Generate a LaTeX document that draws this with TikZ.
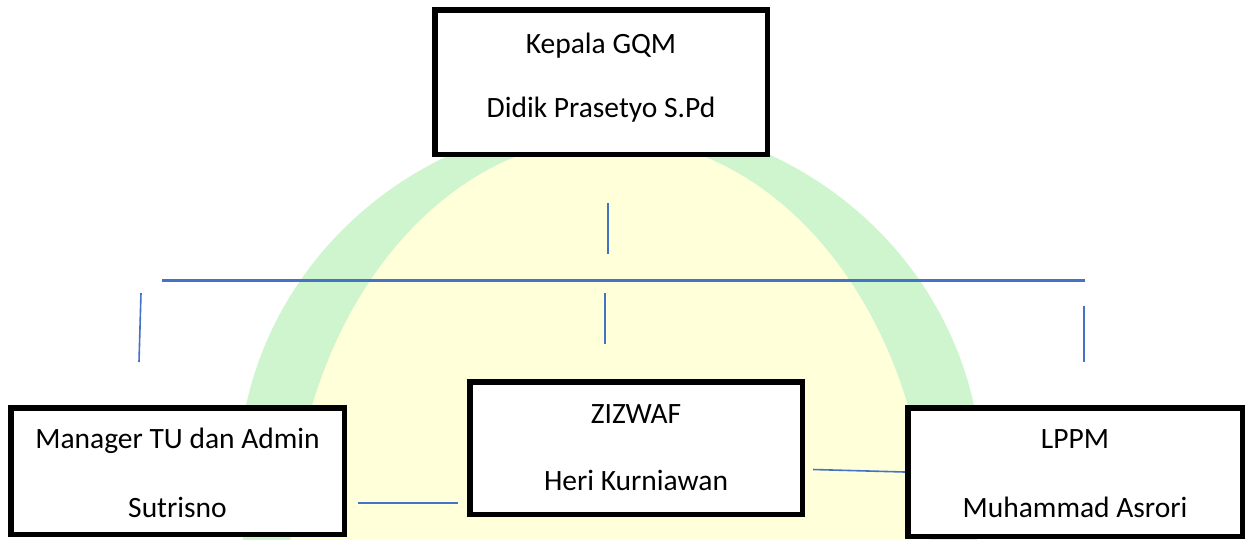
\documentclass[tikz,border=0pt]{standalone}
\usepackage{fontspec}
\setmainfont{Carlito}
\definecolor{wmgreen}{HTML}{CEF5CE}
\definecolor{wmyellow}{HTML}{FFFFD9}
\definecolor{linkblue}{HTML}{4472C4}
\begin{document}
\begin{tikzpicture}[x=1pt,y=-1pt,
  box/.style={draw=black, line width=5.5pt, fill=white, rectangle, inner sep=0pt},
  lbl/.style={anchor=base, inner sep=0pt, font=\fontsize{29.5}{35}\selectfont},
  link/.style={draw=linkblue, line width=1.6pt},
  bar/.style={draw=linkblue, line width=2.2pt}]
\useasboundingbox (0,0) rectangle (1246,539);
% watermark
\begin{scope}
\clip (0,0) rectangle (1246,539);
\fill[wmgreen] (610,480) ellipse [x radius=372, y radius=360];
\fill[wmyellow] (610,560) ellipse [x radius=320, y radius=422];
\end{scope}
% boxes
\node[box, minimum width=332.5pt, minimum height=144.5pt] (kepala) at (601,82) {};
\node[box, minimum width=333.5pt, minimum height=126.5pt] (tu) at (177.5,471) {};
\node[box, minimum width=332.5pt, minimum height=132.5pt] (zizwaf) at (636,448) {};
\node[box, minimum width=334.5pt, minimum height=128.5pt] (lppm) at (1075,472) {};
% labels
\node[lbl] (kepalaT) at (601,53) {Kepala GQM};
\node[lbl] (kepalaN) at (601,117) {Didik Prasetyo S.Pd};
\node[lbl] (tuT) at (177.5,448) {Manager TU dan Admin};
\node[lbl] (tuN) at (177.5,517) {Sutrisno};
\node[lbl] (zT) at (636,423) {ZIZWAF};
\node[lbl] (zN) at (636,490) {Heri Kurniawan};
\node[lbl] (lT) at (1075,448) {LPPM};
\node[lbl] (lN) at (1075,517) {Muhammad Asrori};
% connector pieces
\coordinate (v1a) at (608,203);
\coordinate (v1b) at (608,254);
\coordinate (ha) at (162,280.5);
\coordinate (hb) at (1085,280.5);
\coordinate (v2a) at (605,293);
\coordinate (v2b) at (605,344);
\coordinate (vla) at (141,293);
\coordinate (vlb) at (139,362);
\coordinate (vra) at (1084,306);
\coordinate (vrb) at (1084,362);
\coordinate (ca) at (358,503);
\coordinate (cb) at (458,503);
\coordinate (cc) at (813,469.5);
\draw[link] (v1a) -- (v1b);
\draw[bar] (ha) -- (hb);
\draw[link] (v2a) -- (v2b);
\draw[link] (vla) -- (vlb);
\draw[link] (vra) -- (vrb);
\draw[link] (ca) -- (cb);
\draw[link] (cc) -- (lppm.west);
\end{tikzpicture}
\end{document}
